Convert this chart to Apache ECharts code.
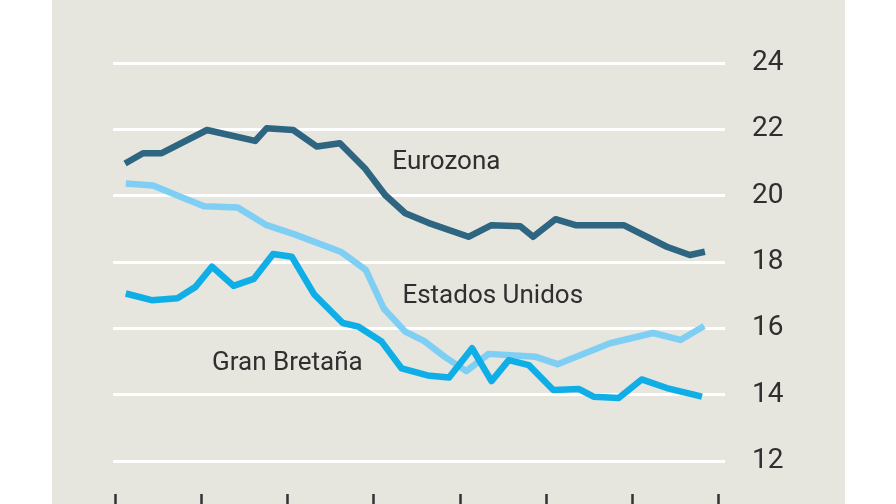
<!DOCTYPE html>
<html>
<head>
<meta charset="utf-8">
<script src="https://cdn.jsdelivr.net/npm/echarts@6/dist/echarts.min.js"></script>
<style>
    html, body { margin: 0; padding: 0; background: #ffffff; }
    #chart { position: absolute; left: 52px; top: 0; width: 793px; height: 504px; background: #e6e5de; }
</style>
</head>
<body>
<div id="chart"></div>
<script>
// x en meses desde el inicio del periodo, una marca por año
var yearTicks = [0, 12, 24, 36, 48, 60, 72, 84]
var yTicks = [12, 14, 16, 18, 20, 22, 24]

var euroMonths = [1.4, 3.9, 6.5, 12.8, 19.5, 21.1, 24.8, 28.1, 31.3, 34.8, 37.6, 40.4, 43.6, 49.2, 52.4, 56.4, 58.2, 61.3, 64.1, 70.8, 76.8, 80.0, 82.1]
var euroValues = [20.97, 21.28, 21.28, 21.98, 21.65, 22.03, 21.98, 21.48, 21.58, 20.82, 20.02, 19.47, 19.18, 18.76, 19.11, 19.08, 18.76, 19.29, 19.11, 19.11, 18.46, 18.21, 18.31]

var usMonths = [1.5, 5.3, 9.1, 12.4, 17.1, 21.1, 24.9, 31.5, 34.9, 37.4, 40.4, 43.0, 45.9, 48.9, 52.0, 58.6, 61.6, 68.9, 74.9, 78.7, 82.0]
var usValues = [20.37, 20.31, 19.97, 19.68, 19.64, 19.11, 18.84, 18.30, 17.76, 16.60, 15.90, 15.62, 15.14, 14.71, 15.23, 15.14, 14.92, 15.55, 15.86, 15.65, 16.07]

var gbMonths = [1.5, 5.1, 8.7, 11.2, 13.5, 16.5, 19.3, 22.0, 24.6, 27.7, 31.7, 33.9, 37.1, 39.9, 43.5, 46.5, 49.7, 52.4, 54.8, 57.6, 61.0, 64.6, 66.6, 70.1, 73.3, 76.8, 81.7]
var gbValues = [17.05, 16.85, 16.91, 17.25, 17.86, 17.28, 17.49, 18.24, 18.16, 17.03, 16.16, 16.05, 15.60, 14.79, 14.58, 14.52, 15.40, 14.41, 15.04, 14.89, 14.14, 14.17, 13.94, 13.90, 14.46, 14.20, 13.94]

// etiquetas de cada serie: [mes, valor] donde empieza el texto
var labelNames = ['Eurozona', 'Estados Unidos', 'Gran Bretaña']
var labelSpots = [[38.6, 21.0], [40.0, 16.97], [13.5, 14.95]]

function pairs (xs, ys) {
    return xs.map(function (x, i) { return [x, ys[i]] })
}

function makeSeries (name, xs, ys, color, idx) {
    return {
        name: name,
        type: 'line',
        data: pairs(xs, ys),
        symbol: 'none',
        lineStyle: { color: color, width: 6.5, join: 'round' },
        markPoint: {
            symbol: 'circle',
            symbolSize: 0,
            silent: true,
            label: {
                show: true,
                position: 'right',
                distance: 0,
                formatter: labelNames[idx],
                color: '#2f2f2f',
                fontFamily: 'Roboto',
                fontSize: 26
            },
            data: [{ coord: labelSpots[idx] }]
        }
    }
}

var myChart = echarts.init(document.getElementById('chart'))
myChart.setOption({
    animation: false,
    grid: { left: 61, right: 120, top: 63, bottom: 43 },
    xAxis: {
        type: 'value',
        min: -0.28,
        max: 84.9,
        offset: 33,
        axisLine: { show: false },
        axisLabel: { show: false },
        splitLine: { show: false },
        axisTick: {
            show: true,
            customValues: yearTicks,
            length: 12,
            lineStyle: { color: '#333333', width: 2.5 }
        }
    },
    yAxis: {
        type: 'value',
        position: 'right',
        min: yTicks[0],
        max: yTicks[yTicks.length - 1],
        interval: 2,
        axisLine: { show: false },
        axisTick: { show: false },
        axisLabel: {
            margin: 27,
            color: '#2f2f2f',
            fontFamily: 'Roboto',
            fontSize: 28
        },
        splitLine: { lineStyle: { color: '#ffffff', width: 3 } }
    },
    series: [
        makeSeries('Estados Unidos', usMonths, usValues, '#7fcff5', 1),
        makeSeries('Eurozona', euroMonths, euroValues, '#2e6580', 0),
        makeSeries('Gran Bretaña', gbMonths, gbValues, '#10aee6', 2)
    ]
})
</script>
</body>
</html>
